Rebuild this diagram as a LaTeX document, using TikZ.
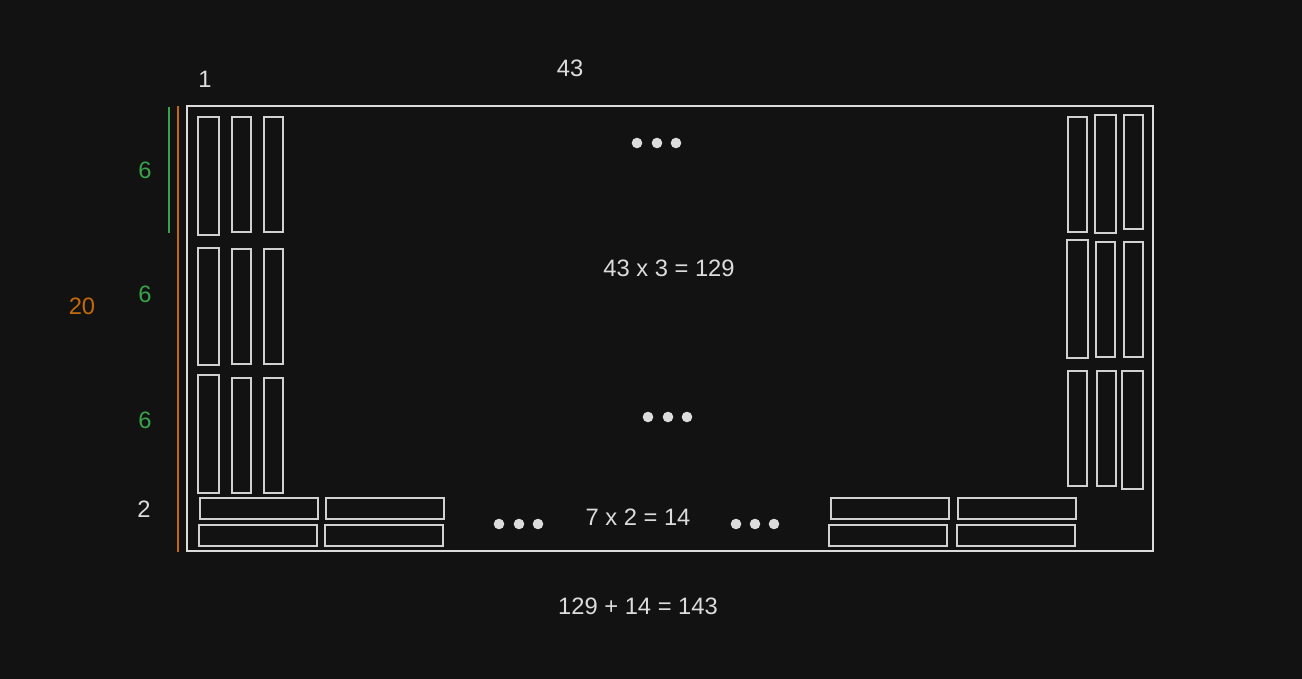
\documentclass[tikz,border=0pt]{standalone}
\usepackage{fontspec}
\setmainfont{Liberation Sans}
\usepackage{xcolor}
\definecolor{InkGray}{HTML}{DCDCDC}
\definecolor{BoardBlack}{HTML}{121212}
\definecolor{LeafGreen}{HTML}{37A34A}
\definecolor{RustOrange}{HTML}{C26A0A}
\usepackage{tikz}
\usetikzlibrary{positioning}

\tikzset{
  frame/.style={draw=InkGray, line width=1.1pt},
  bar/.style={draw=InkGray!95!black, line width=1.4pt},
  dot/.style={fill=InkGray, draw=none},
  lbl/.style={text=InkGray, font=\fontsize{13.5}{16}\selectfont, inner sep=0pt},
}

\begin{document}
\begin{tikzpicture}[x=0.02cm, y=-0.02cm]
  \fill[BoardBlack] (0,0) rectangle (1302,679);
  \useasboundingbox (0,0) rectangle (1302,679);

  % outer frame
  \draw[frame] (187,106) rectangle (1153,551);

  % measure lines
  \coordinate (gtop) at (169,107);
  \coordinate (gbot) at (169,233);
  \coordinate (otop) at (178,106);
  \coordinate (obot) at (178,552);
  \draw[LeafGreen, line width=0.8pt] (gtop) -- (gbot);
  \draw[RustOrange, line width=0.8pt] (otop) -- (obot);

  % left stacks
  \foreach \xa/\ya/\xb/\yb in {198/117/219/235, 232/117/251/232, 264/117/283/232,
      198/248/219/365, 232/249/251/364, 264/249/283/364,
      198/375/219/493, 232/378/251/493, 264/378/283/493}
    \draw[bar] (\xa,\ya) rectangle (\xb,\yb);

  % right stacks
  \foreach \xa/\ya/\xb/\yb in {1068/117/1087/232, 1095/115/1116/233, 1124/115/1143/229,
      1067/240/1088/358, 1096/242/1115/357, 1124/242/1143/357,
      1068/371/1087/486, 1097/371/1116/486, 1122/371/1143/489}
    \draw[bar] (\xa,\ya) rectangle (\xb,\yb);

  % bottom flat pieces
  \foreach \xa/\ya/\xb/\yb in {200/498/318/519, 326/498/444/519,
      199/525/317/546, 325/525/443/546,
      831/498/949/519, 958/498/1076/519,
      829/525/947/546, 957/525/1075/546}
    \draw[bar] (\xa,\ya) rectangle (\xb,\yb);

  % ellipsis dots
  \foreach \cx/\cy in {637/143, 657/143, 676/143,
      648/417, 668/417, 687/417,
      499/524, 519/524, 538/524,
      736/524, 755/524, 774/524}
    \fill[dot] (\cx,\cy) circle (5.3);

  % labels
  \node[lbl] (one) at (205,79) {1};
  \node[lbl] (width) at (570,68) {43};
  \node[lbl, text=LeafGreen] (rowa) at (145,170) {6};
  \node[lbl, text=LeafGreen] (rowb) at (145,294) {6};
  \node[lbl, text=LeafGreen] (rowc) at (145,420) {6};
  \node[lbl, text=RustOrange] (height) at (82,306) {20};
  \node[lbl] (rowd) at (144,509) {2};
  \node[lbl] (upright) at (669,268) {43 x 3 = 129};
  \node[lbl] (flat) at (638,517) {7 x 2 = 14};
  \node[lbl] (total) at (638,606) {129 + 14 = 143};
\end{tikzpicture}
\end{document}
